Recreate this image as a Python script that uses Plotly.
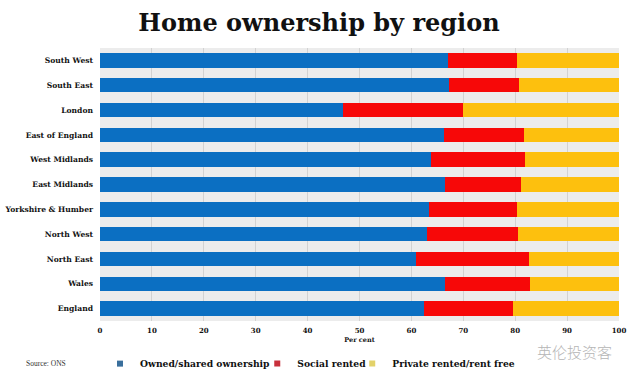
import plotly.graph_objects as go

regions = ["South West", "South East", "London", "East of England", "West Midlands",
           "East Midlands", "Yorkshire & Humber", "North West", "North East", "Wales", "England"]
owned = [67.0, 67.2, 46.8, 66.3, 63.7, 66.5, 63.3, 63.0, 60.8, 66.4, 62.4]
social = [13.3, 13.5, 23.1, 15.4, 18.1, 14.7, 17.1, 17.5, 21.9, 16.5, 17.1]
private = [19.7, 19.3, 30.1, 18.3, 18.2, 18.8, 19.6, 19.5, 17.3, 17.1, 20.5]

series_names = ["Owned/shared ownership", "Social rented", "Private rented/rent free"]
bar_colors = ["#0b6fc2", "#f70808", "#fdc00e"]
legend_colors = ["#3a6f9c", "#c8303c", "#e3d26a"]
tick_vals = [0, 10, 20, 30, 40, 50, 60, 70, 80, 90, 100]

SERIF = "DejaVu Serif"
legend_ids = ["legend", "legend2", "legend3"]
legend_x = [0.0, 0.303, 0.486]

fig = go.Figure()
for name, vals, col in zip(series_names, [owned, social, private], bar_colors):
    fig.add_trace(go.Bar(
        y=regions, x=vals, orientation="h", name=name,
        marker=dict(color=col, line=dict(width=0)),
        showlegend=False,
    ))
# legend entries with small square markers, each in its own legend box
for name, col, lid in zip(series_names, legend_colors, legend_ids):
    fig.add_trace(go.Scatter(
        x=[None], y=[None], mode="markers", name=name,
        marker=dict(symbol="square", size=6, color=col),
        showlegend=True, legend=lid,
    ))

legend_style = dict(orientation="h", xanchor="left", y=-0.103, yanchor="top",
                    yref="paper", bgcolor="rgba(0,0,0,0)", itemwidth=30,
                    font=dict(family=SERIF, size=9.2, color="#111111", weight="bold"))

fig.update_layout(
    width=634, height=377,
    barmode="stack", bargap=0.42,
    paper_bgcolor="#ffffff", plot_bgcolor="#ececec",
    margin=dict(l=100, r=15, t=48, b=56, autoexpand=False),
    title=dict(text="<b>Home ownership by region</b>", x=319 / 634, xanchor="center",
               xref="container", y=1 - 23 / 377, yref="container", yanchor="middle",
               font=dict(family=SERIF, size=24, color="#111111")),
    xaxis=dict(range=[0, 100], tickvals=tick_vals, showgrid=True, gridcolor="#d2d2d2",
               gridwidth=1, zeroline=False, showline=False, ticks="", automargin=False,
               ticklabelstandoff=4,
               tickfont=dict(family=SERIF, size=7, color="#111111", weight="bold"),
               title=dict(text="Per cent", standoff=3,
                          font=dict(family=SERIF, size=6.5, color="#111111", weight="bold"))),
    yaxis=dict(autorange="reversed", showgrid=False, zeroline=False, ticks="",
               ticklabelstandoff=6, automargin=False,
               tickfont=dict(family=SERIF, size=7.6, color="#111111", weight="bold")),
    legend=dict(x=legend_x[0], **legend_style),
    legend2=dict(x=legend_x[1], **legend_style),
    legend3=dict(x=legend_x[2], **legend_style),
    annotations=[
        dict(text="Source: ONS", xref="paper", yref="paper", x=-0.146, y=-0.156,
             xanchor="left", yanchor="middle", showarrow=False,
             font=dict(family="Liberation Serif", size=7.5, color="#333333")),
        dict(text="英伦投资客", xref="paper", yref="paper", x=0.915, y=-0.11,
             xanchor="center", yanchor="middle", showarrow=False,
             font=dict(family="Noto Sans CJK SC", size=15, color="#b5b5b5", weight=300)),
    ],
)

fig.write_html("out.html", config={"displayModeBar": False},
               post_script="document.body.style.margin='0';")
